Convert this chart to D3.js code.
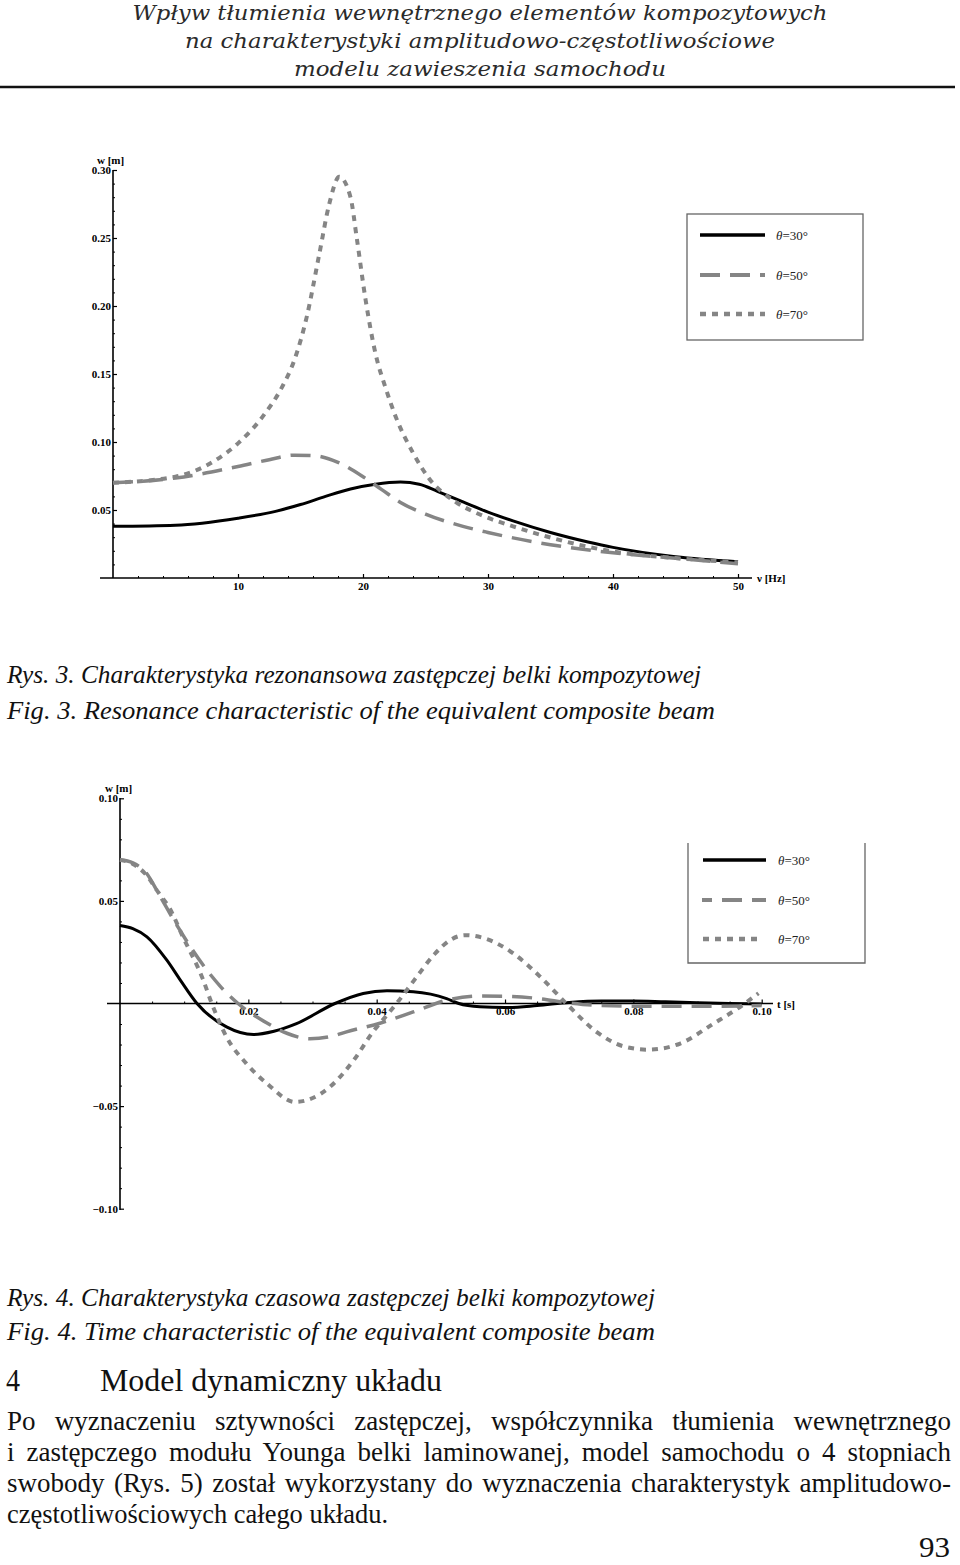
<!DOCTYPE html>
<html>
<head>
<meta charset="utf-8">
<script src="https://cdn.jsdelivr.net/npm/d3@7/dist/d3.min.js"></script>
<style>
  html, body { margin: 0; padding: 0; background: #fff; }
  svg { display: block; }
  .serif { font-family: "Liberation Serif", "Times New Roman", Tinos, "Nimbus Roman", serif; }
  .hdr { font-family: "DejaVu Serif", serif; }
</style>
</head>
<body>
<svg id="page" width="960" height="1565"></svg>
<script>
// ---------------- DATA ----------------
// Fig. 3 – resonance characteristic, frequency [Hz] vs amplitude w [m]
const freq30 = [0, 5, 10, 13, 15, 17, 19, 21, 23, 24.5, 26, 28, 30, 32, 35, 38, 40, 45, 50];
const amp30  = [0.038, 0.0388, 0.044, 0.049, 0.054, 0.060, 0.0655, 0.069, 0.0705, 0.069, 0.0635, 0.056, 0.0485, 0.042, 0.0335, 0.0265, 0.0225, 0.0157, 0.012];

const freq50 = [0, 5, 10, 12.5, 14.5, 16, 18, 20, 21.5, 23, 25, 28, 30, 32, 35, 40, 45, 50];
const amp50  = [0.070, 0.0735, 0.082, 0.087, 0.0903, 0.090, 0.085, 0.0745, 0.065, 0.0555, 0.047, 0.038, 0.0335, 0.0295, 0.0245, 0.0185, 0.0145, 0.0105];

const freq70 = [0, 5, 8, 10, 12, 13.5, 14.5, 15.5, 16.5, 17.3, 18.1, 19, 19.5, 20.2, 21, 21.8, 22.6, 24, 25.3, 27.4, 29.4, 32, 34.7, 40, 45, 50];
const amp70  = [0.070, 0.0745, 0.0855, 0.099, 0.119, 0.140, 0.160, 0.192, 0.238, 0.275, 0.295, 0.280, 0.250, 0.205, 0.165, 0.140, 0.119, 0.092, 0.073, 0.056, 0.0465, 0.038, 0.0305, 0.0195, 0.0147, 0.0115];

// Fig. 4 – time characteristic, t [s] vs w [m]
const time30 = [0, 0.002, 0.0042, 0.0073, 0.0094, 0.012, 0.0166, 0.0208, 0.024, 0.0275, 0.0335, 0.0379, 0.0416, 0.0457, 0.0509, 0.0528, 0.0561, 0.060, 0.065, 0.070, 0.075, 0.080, 0.085, 0.090, 0.095, 0.100];
const disp30 = [0.038, 0.0365, 0.0325, 0.0211, 0.0114, 0.0, -0.0114, -0.0151, -0.0135, -0.0098, 0.0, 0.0049, 0.0062, 0.0057, 0.0024, 0.0, -0.0016, -0.002, -0.001, 0.0005, 0.0012, 0.0012, 0.0008, 0.0004, 0.0, -0.0003];

const time50 = [0, 0.002, 0.004, 0.0062, 0.0085, 0.0109, 0.013, 0.0156, 0.0184, 0.0229, 0.026, 0.0296, 0.033, 0.0353, 0.0405, 0.0457, 0.0509, 0.0561, 0.060, 0.065, 0.070, 0.075, 0.083, 0.093, 0.100];
const disp50 = [0.070, 0.0685, 0.064, 0.0525, 0.040, 0.028, 0.0185, 0.0085, 0.0, -0.0095, -0.0145, -0.0172, -0.0160, -0.0138, -0.0096, -0.0041, 0.0016, 0.0036, 0.0035, 0.0025, 0.0003, -0.001, -0.0014, -0.0013, -0.001];

const time70 = [0, 0.002, 0.004, 0.006, 0.0078, 0.0098, 0.0129, 0.0143, 0.0166, 0.0197, 0.0229, 0.0273, 0.0327, 0.0364, 0.0395, 0.0415, 0.0431, 0.046, 0.049, 0.0515, 0.0538, 0.0569, 0.0613, 0.0655, 0.0697, 0.0743, 0.0784, 0.0823, 0.0873, 0.0925, 0.0966, 0.0995];
const disp70 = [0.070, 0.068, 0.063, 0.054, 0.046, 0.0325, 0.012, 0.0, -0.0163, -0.0293, -0.039, -0.048, -0.0407, -0.0277, -0.0135, -0.006, 0.0, 0.012, 0.024, 0.031, 0.0333, 0.0317, 0.0244, 0.013, -0.0005, -0.0139, -0.0208, -0.0225, -0.0195, -0.0098, -0.0017, 0.005];

// Axis tick values
const fig3YTicks = [0.05, 0.10, 0.15, 0.20, 0.25, 0.30];
const fig3XTicks = [10, 20, 30, 40, 50];
const fig4YTicks = [-0.10, -0.05, 0.05, 0.10];
const fig4XTicks = [0.02, 0.04, 0.06, 0.08, 0.10];

const legendLabels = ["θ=30°", "θ=50°", "θ=70°"];

// Text content
const headerLines = [
  "Wpływ tłumienia wewnętrznego elementów kompozytowych",
  "na charakterystyki amplitudowo-częstotliwościowe",
  "modelu zawieszenia samochodu"
];
const captions = [
  "Rys. 3. Charakterystyka rezonansowa zastępczej belki kompozytowej",
  "Fig. 3. Resonance characteristic of the equivalent composite beam",
  "Rys. 4. Charakterystyka czasowa zastępczej belki kompozytowej",
  "Fig. 4. Time characteristic of the equivalent composite beam"
];
const sectionNumber = "4";
const sectionTitle = "Model dynamiczny układu";
const paragraphLines = [
  "Po wyznaczeniu sztywności zastępczej, współczynnika tłumienia wewnętrznego",
  "i zastępczego modułu Younga belki laminowanej, model samochodu o 4 stopniach",
  "swobody (Rys. 5) został wykorzystany do wyznaczenia charakterystyk amplitudowo-",
  "częstotliwościowych całego układu."
];
const pageNumber = "93";

// ---------------- DRAW ----------------
const svg = d3.select("#page");

// Header
const headerSpec = [
  {y: 20, w: 695}, {y: 48, w: 590}, {y: 76, w: 372}
];
headerLines.forEach((t, i) => {
  svg.append("text")
    .attr("class", "hdr")
    .attr("x", 480).attr("y", headerSpec[i].y)
    .attr("text-anchor", "middle")
    .style("font-style", "italic")
    .style("font-size", "21px")
    .attr("fill", "#2a2a2a")
    .attr("textLength", headerSpec[i].w)
    .attr("lengthAdjust", "spacingAndGlyphs")
    .text(t);
});
svg.append("line").attr("x1", 0).attr("x2", 955).attr("y1", 87).attr("y2", 87)
  .attr("stroke", "#111").attr("stroke-width", 2.5);

// Series styles
const styles = [
  {stroke: "#000", width: 3, dash: null},
  {stroke: "#858585", width: 3.5, dash: "20,10"},
  {stroke: "#858585", width: 4, dash: "6,6"}
];

function styleTickText(sel) {
  sel.attr("class", "serif").attr("font-family", null)
    .style("font-weight", "bold").style("font-size", "11px").attr("fill", "#000");
}

function drawAxes(g, x, y, opt) {
  g.append("line").attr("x1", x(0)).attr("x2", x(0))
    .attr("y1", opt.yTop).attr("y2", opt.yBottom)
    .attr("stroke", "#000").attr("stroke-width", 1.6);
  g.append("line").attr("x1", opt.xLeft).attr("x2", opt.xRight)
    .attr("y1", y(0)).attr("y2", y(0))
    .attr("stroke", "#000").attr("stroke-width", 1.6);

  const ya = d3.axisLeft(y).tickValues(opt.yTicks).tickFormat(d3.format(".2f"))
    .tickSizeInner(-4).tickSizeOuter(0).tickPadding(2);
  const gy = g.append("g").attr("transform", `translate(${x(0)},0)`).call(ya);
  gy.attr("font-family", null).attr("font-size", null);
  gy.select(".domain").remove();
  styleTickText(gy.selectAll("text"));
  gy.selectAll("line").attr("stroke", "#000").attr("stroke-width", 1.2);
  const yMinor = d3.axisLeft(y).tickValues(opt.yMinor).tickFormat("")
    .tickSizeInner(-2).tickSizeOuter(0);
  const gym = g.append("g").attr("transform", `translate(${x(0)},0)`).call(yMinor);
  gym.select(".domain").remove();
  gym.selectAll("line").attr("stroke", "#000").attr("stroke-width", 1);

  const xa = d3.axisBottom(x).tickValues(opt.xTicks).tickFormat(opt.xFormat)
    .tickSizeInner(-4).tickSizeOuter(0).tickPadding(4);
  const gx = g.append("g").attr("transform", `translate(0,${y(0)})`).call(xa);
  gx.attr("font-family", null).attr("font-size", null);
  gx.select(".domain").remove();
  styleTickText(gx.selectAll("text"));
  gx.selectAll("line").attr("stroke", "#000").attr("stroke-width", 1.2);
  const xMinor = d3.axisBottom(x).tickValues(opt.xMinor).tickFormat("")
    .tickSizeInner(-2).tickSizeOuter(0);
  const gxm = g.append("g").attr("transform", `translate(0,${y(0)})`).call(xMinor);
  gxm.select(".domain").remove();
  gxm.selectAll("line").attr("stroke", "#000").attr("stroke-width", 1);

  styleTickText(g.append("text").attr("x", opt.yLabelX).attr("y", opt.yLabelY).text("w [m]"));
  styleTickText(g.append("text").attr("x", opt.xLabelX).attr("y", y(0) + 4).text(opt.xLabel));
  return gx;
}

function drawLegend(g, box, rows) {
  if (box.noTop) {
    g.append("path").attr("d", `M${box.x},${box.y}V${box.y + box.h}H${box.x + box.w}V${box.y}`)
      .attr("fill", "#fff").attr("stroke", "#666").attr("stroke-width", 1.3);
  } else {
    g.append("rect").attr("x", box.x).attr("y", box.y).attr("width", box.w).attr("height", box.h)
      .attr("fill", "#fff").attr("stroke", "#666").attr("stroke-width", 1.3);
  }
  rows.forEach((r, i) => {
    const s = styles[i];
    g.append("line").attr("x1", r.x1).attr("x2", r.x2).attr("y1", r.y).attr("y2", r.y)
      .attr("stroke", s.stroke).attr("stroke-width", s.width + 0.5)
      .attr("stroke-dasharray", s.dash).attr("stroke-dashoffset", r.offset || 0);
    const t = g.append("text").attr("class", "serif").attr("x", r.tx).attr("y", r.y + 5)
      .style("font-size", "13px").attr("fill", "#222");
    t.append("tspan").style("font-style", "italic").text(legendLabels[i].slice(0, 1));
    t.append("tspan").text(legendLabels[i].slice(1));
  });
}

// ---------- Fig. 3 ----------
{
  const g = svg.append("g");
  const x = d3.scaleLinear().domain([0, 50]).range([113, 738]);
  const y = d3.scaleLinear().domain([0, 0.30]).range([578, 170]);
  drawAxes(g, x, y, {
    yTop: 170, yBottom: 578, xLeft: 100, xRight: 752,
    yTicks: fig3YTicks, yMinor: d3.range(1, 30).map(d => d / 100).filter(d => Math.round(d * 100) % 5 !== 0),
    xTicks: fig3XTicks, xMinor: d3.range(2, 51, 2).filter(d => d % 10 !== 0),
    xFormat: d3.format("d"),
    yLabelX: 97, yLabelY: 164, xLabelX: 757, xLabel: "ν [Hz]"
  });
  const series = [[freq30, amp30], [freq50, amp50], [freq70, amp70]];
  const line = d3.line().x(d => x(d[0])).y(d => y(d[1])).curve(d3.curveMonotoneX);
  series.forEach((s, i) => {
    const pts = s[0].map((v, j) => [v, s[1][j]]);
    g.append("path").attr("d", line(pts)).attr("fill", "none")
      .attr("stroke", styles[i].stroke).attr("stroke-width", styles[i].width)
      .attr("stroke-dasharray", styles[i].dash);
  });
  drawLegend(g, {x: 687, y: 214, w: 176, h: 126}, [
    {x1: 700, x2: 765, y: 235, tx: 776},
    {x1: 700, x2: 765, y: 275, tx: 776, offset: 0},
    {x1: 700, x2: 765, y: 314, tx: 776}
  ]);
}

// ---------- Fig. 4 ----------
{
  const g = svg.append("g");
  const x = d3.scaleLinear().domain([0, 0.10]).range([120, 761.7]);
  const y = d3.scaleLinear().domain([-0.10, 0.10]).range([1208.7, 798.3]);
  const series = [[time30, disp30], [time50, disp50], [time70, disp70]];
  const line = d3.line().x(d => x(d[0])).y(d => y(d[1])).curve(d3.curveMonotoneX);
  drawLegend(g, {x: 688, y: 843, w: 177, h: 120, noTop: true}, [
    {x1: 703, x2: 766, y: 860, tx: 778},
    {x1: 702, x2: 766, y: 900, tx: 778, offset: 10},
    {x1: 703, x2: 763, y: 939, tx: 778}
  ]);
  drawAxes(g, x, y, {
    yTop: 798, yBottom: 1210, xLeft: 107, xRight: 773,
    yTicks: fig4YTicks,
    yMinor: d3.range(-9, 10).map(d => d / 100).filter(d => d !== 0 && Math.abs(Math.round(d * 100)) % 5 !== 0),
    xTicks: fig4XTicks,
    xMinor: d3.range(1, 21).map(d => d * 0.005).filter(d => Math.round(d * 1000) % 20 !== 0),
    xFormat: d3.format(".2f"),
    yLabelX: 105, yLabelY: 792, xLabelX: 777, xLabel: "t [s]"
  });
  const gLines = g.append("g");
  series.forEach((s, i) => {
    const pts = s[0].map((v, j) => [v, s[1][j]]);
    gLines.append("path").attr("d", line(pts)).attr("fill", "none")
      .attr("stroke", styles[i].stroke).attr("stroke-width", styles[i].width)
      .attr("stroke-dasharray", styles[i].dash);
  });
}

// ---------- Captions & body text ----------
function textLine(x, y, str, size, opts = {}) {
  const t = svg.append("text").attr("class", "serif").attr("x", x).attr("y", y)
    .style("font-size", size + "px").attr("fill", "#111")
    .text(str);
  if (opts.italic) t.style("font-style", "italic");
  if (opts.width) t.attr("textLength", opts.width).attr("lengthAdjust", "spacingAndGlyphs");
  if (opts.anchor) t.attr("text-anchor", opts.anchor);
  return t;
}

const capSpec = [
  {y: 683, w: 694}, {y: 719, w: 708}, {y: 1306, w: 648}, {y: 1340, w: 648}
];
captions.forEach((c, i) => textLine(7, capSpec[i].y, c, 25, {italic: true, width: capSpec[i].w}));

textLine(6, 1391, sectionNumber, 31, {width: 14});
textLine(100, 1391, sectionTitle, 31, {width: 342});

const paraY = [1430, 1461, 1492, 1523];
paragraphLines.forEach((p, i) => {
  const t = textLine(7, paraY[i], p, 27);
  if (i < paragraphLines.length - 1) {
    const natural = t.node().getComputedTextLength();
    const spaces = (p.match(/ /g) || []).length;
    const ws = Math.max(0, (944 - natural) / spaces);
    t.style("word-spacing", ws + "px");
    if (natural > 944) t.attr("textLength", 944).attr("lengthAdjust", "spacingAndGlyphs");
  } else {
    t.attr("textLength", 381).attr("lengthAdjust", "spacingAndGlyphs");
  }
});

textLine(950, 1557, pageNumber, 30, {anchor: "end", width: 31});
</script>
</body>
</html>
